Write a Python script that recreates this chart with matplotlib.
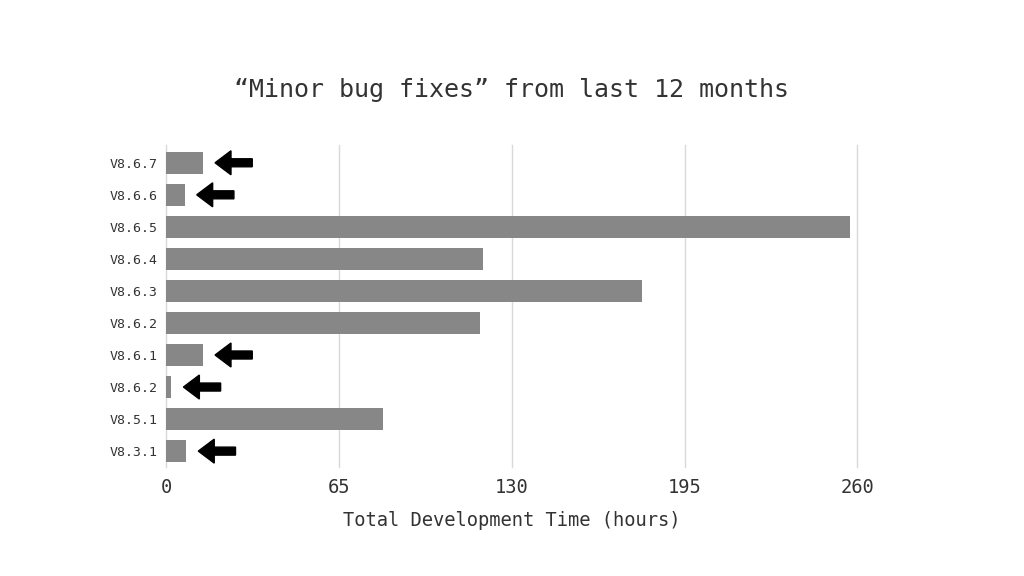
import matplotlib
matplotlib.use('Agg')
import matplotlib.pyplot as plt

# data (top to bottom as shown)
versions = ["V8.6.7", "V8.6.6", "V8.6.5", "V8.6.4", "V8.6.3",
            "V8.6.2", "V8.6.1", "V8.6.2", "V8.5.1", "V8.3.1"]
hours = [13.8, 6.9, 257.3, 119, 179, 118, 13.8, 1.9, 81.6, 7.5]
flagged = [True, True, False, False, False, False, True, True, False, True]
xticks = [0, 65, 130, 195, 260]

plt.rcParams['font.family'] = ['DejaVu Sans Mono']

fig = plt.figure(figsize=(10.24, 5.76), dpi=100)
ax = fig.add_axes([0.1625, 0.189, 0.8374 - 0.1625, 0.748 - 0.189])

n = len(versions)
ypos = [n - 1 - i for i in range(n)]
ax.barh(ypos, hours, height=0.7, color='#878787', zorder=2)

# arrows pointing at the small bars
for y, h, f in zip(ypos, hours, flagged):
    if f:
        tip = h + 4.5
        ax.arrow(tip + 14, y, -14, 0, width=0.25, head_width=0.75,
                 head_length=6, length_includes_head=True,
                 color='black', zorder=3)

ax.set_xlim(0, 260)
ax.set_ylim(-0.5, 9.55)
ax.set_xticks(xticks)
ax.set_xticklabels([str(t) for t in xticks], fontsize=13.5, color='#333333')
ax.set_yticks(ypos)
ax.set_yticklabels(versions, fontsize=9.5, color='#333333')
ax.tick_params(axis='both', length=0)
ax.tick_params(axis='x', pad=8)
ax.tick_params(axis='y', pad=6)
ax.xaxis.grid(True, color='#d9d9d9', linewidth=1, zorder=0)
for gl in ax.get_xgridlines():
    gl.set_clip_on(False)
for s in ax.spines.values():
    s.set_visible(False)

ax.set_xlabel("Total Development Time (hours)", fontsize=13.5,
              color='#333333', labelpad=10)
fig.text(0.5, 1 - 90 / 576, "\u201cMinor bug fixes\u201d from last 12 months",
         ha='center', va='center', fontsize=18, color='#333333')

fig.savefig("out.png", dpi=100)
